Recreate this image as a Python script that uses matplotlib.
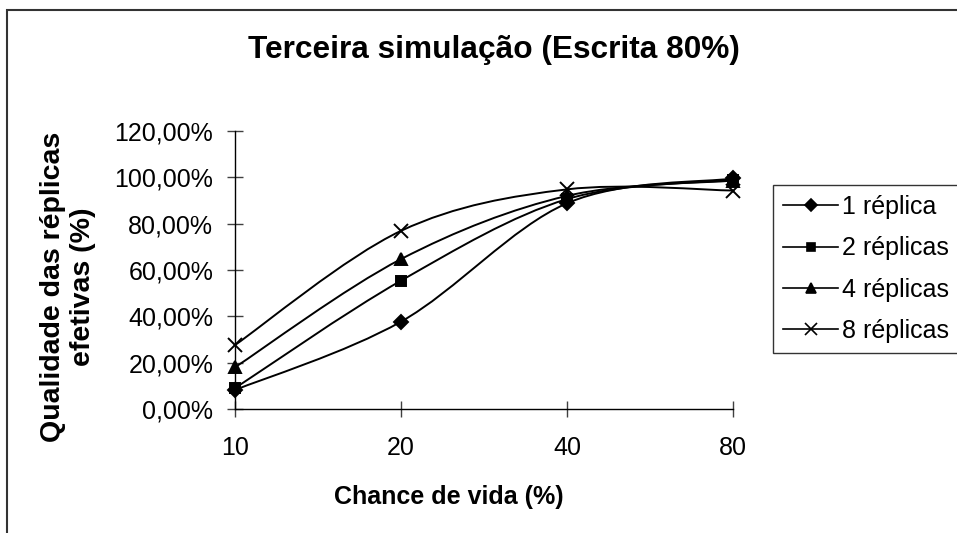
import matplotlib
matplotlib.use("Agg")
import matplotlib.pyplot as plt
from matplotlib.path import Path
from matplotlib.patches import PathPatch, Rectangle
from matplotlib.lines import Line2D
from matplotlib.ticker import FuncFormatter

plt.rcParams['font.family'] = ['Liberation Sans', 'DejaVu Sans']

# data
categories = ["10", "20", "40", "80"]
one_replica = [0.082, 0.377, 0.888, 0.995]
two_replicas = [0.090, 0.554, 0.906, 0.989]
four_replicas = [0.180, 0.647, 0.920, 0.986]
eight_replicas = [0.276, 0.769, 0.948, 0.943]
series_names = ["1 réplica", "2 réplicas", "4 réplicas", "8 réplicas"]
markers = ["D", "s", "^", "x"]
marker_sizes = [7, 7, 8.5, 10]


def smooth_path(xs, ys):
    # Excel-like smoothed line: Catmull-Rom segments as cubic Bezier curves
    pts = list(zip(xs, ys))
    n = len(pts)
    verts = [pts[0]]
    codes = [Path.MOVETO]
    for i in range(n - 1):
        p0 = pts[i - 1] if i > 0 else pts[i]
        p1 = pts[i]
        p2 = pts[i + 1]
        p3 = pts[i + 2] if i + 2 < n else pts[i + 1]
        c1 = (p1[0] + (p2[0] - p0[0]) / 6, p1[1] + (p2[1] - p0[1]) / 6)
        c2 = (p2[0] - (p3[0] - p1[0]) / 6, p2[1] - (p3[1] - p1[1]) / 6)
        verts += [c1, c2, p2]
        codes += [Path.CURVE4] * 3
    return Path(verts, codes)


W, H = 957, 533
fig = plt.figure(figsize=(W / 100, H / 100), dpi=100)
ax = fig.add_axes([235 / W, 1 - 409 / H, (733 - 235) / W, (409 - 131) / H])

x = list(range(len(categories)))
all_series = [one_replica, two_replicas, four_replicas, eight_replicas]
handles = []
for vals, name, m, ms in zip(all_series, series_names, markers, marker_sizes):
    ax.add_patch(PathPatch(smooth_path(x, vals), fill=False, edgecolor='black',
                           lw=1.4, zorder=2, clip_on=False))
    ax.plot(x, vals, linestyle='none', marker=m, markersize=ms, color='black',
            mew=1.4, zorder=3, clip_on=False)
    handles.append(Line2D([], [], color='black', lw=1.2, marker=m,
                          markersize=ms * 0.85, mew=1.2, label=name))

ax.set_xlim(0, 3)
ax.set_ylim(0, 1.2)
ax.set_xticks(x)
ax.set_xticklabels(categories)
ax.set_yticks([0, 0.2, 0.4, 0.6, 0.8, 1.0, 1.2])
ax.yaxis.set_major_formatter(FuncFormatter(lambda v, p: f"{v * 100:.2f}".replace(".", ",") + "%"))

for s in ['top', 'right']:
    ax.spines[s].set_visible(False)
for s in ['left', 'bottom']:
    ax.spines[s].set_linewidth(1.0)
    ax.spines[s].set_color('black')
ax.tick_params(axis='both', direction='inout', length=11.5, width=1.0,
               color='#404040', labelsize=18, pad=10)
ax.tick_params(axis='x', pad=14)

fig.text(494 / W, 1 - 50 / H, "Terceira simulação (Escrita 80%)",
         ha='center', va='center', fontsize=22.8, fontweight='bold')
fig.text(449 / W, 1 - 497 / H, "Chance de vida (%)", ha='center', va='center',
         fontsize=18, fontweight='bold')
fig.text(68 / W, 1 - 287 / H, "Qualidade das réplicas\nefetivas (%)", ha='center',
         va='center', rotation=90, fontsize=20.5, fontweight='bold', linespacing=1.2)

leg = fig.legend(handles=handles, loc='upper left', bbox_to_anchor=(773 / W, 1 - 185 / H),
                 frameon=True, fancybox=False, edgecolor='black', fontsize=18,
                 handlelength=2.2, handletextpad=0.15, labelspacing=0.69,
                 borderaxespad=0, borderpad=0.4)
leg.get_frame().set_linewidth(1.0)

# outer chart border (only top and left edges show in the picture)
fig.add_artist(Rectangle((7 / W, -0.1), 1.2, 1 - 10 / H + 0.1, transform=fig.transFigure,
                         fill=False, edgecolor='#333333', lw=1.5))

fig.savefig("out.png", dpi=100)
